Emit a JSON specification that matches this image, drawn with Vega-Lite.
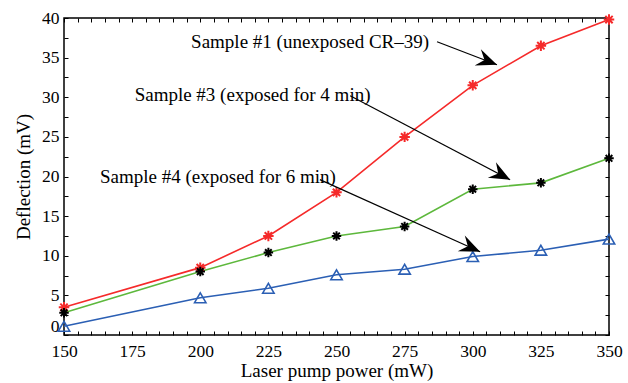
{
  "$schema": "https://vega.github.io/schema/vega-lite/v6.json",
  "width": 545,
  "height": 317,
  "autosize": {"type": "none"},
  "padding": {"left": 64, "top": 18, "right": 19, "bottom": 48},
  "background": "white",
  "config": {
    "view": {"stroke": "black", "strokeWidth": 1.5},
    "font": "Liberation Serif",
    "axis": {"grid": false, "labelFont": "Liberation Serif", "titleFont": "Liberation Serif", "labelColor": "black", "titleColor": "black", "labelFontSize": 17.5, "titleFontSize": 19, "titleFontWeight": "normal", "domain": false, "tickColor": "black"}
  },
  "datasets": {
    "series": [
      {"power": 150, "deflection": 3.5, "sample": "Sample #1"},
      {"power": 200, "deflection": 8.5, "sample": "Sample #1"},
      {"power": 225, "deflection": 12.5, "sample": "Sample #1"},
      {"power": 250, "deflection": 18.0, "sample": "Sample #1"},
      {"power": 275, "deflection": 25.0, "sample": "Sample #1"},
      {"power": 300, "deflection": 31.5, "sample": "Sample #1"},
      {"power": 325, "deflection": 36.5, "sample": "Sample #1"},
      {"power": 350, "deflection": 39.8, "sample": "Sample #1"},
      {"power": 150, "deflection": 2.8, "sample": "Sample #3"},
      {"power": 200, "deflection": 8.0, "sample": "Sample #3"},
      {"power": 225, "deflection": 10.4, "sample": "Sample #3"},
      {"power": 250, "deflection": 12.5, "sample": "Sample #3"},
      {"power": 275, "deflection": 13.7, "sample": "Sample #3"},
      {"power": 300, "deflection": 18.4, "sample": "Sample #3"},
      {"power": 325, "deflection": 19.2, "sample": "Sample #3"},
      {"power": 350, "deflection": 22.3, "sample": "Sample #3"},
      {"power": 150, "deflection": 1.1, "sample": "Sample #4"},
      {"power": 200, "deflection": 4.7, "sample": "Sample #4"},
      {"power": 225, "deflection": 5.9, "sample": "Sample #4"},
      {"power": 250, "deflection": 7.6, "sample": "Sample #4"},
      {"power": 275, "deflection": 8.3, "sample": "Sample #4"},
      {"power": 300, "deflection": 9.9, "sample": "Sample #4"},
      {"power": 325, "deflection": 10.7, "sample": "Sample #4"},
      {"power": 350, "deflection": 12.1, "sample": "Sample #4"}
    ],
    "notes": [
      {"id": "n1", "label": "Sample #1 (unexposed CR–39)", "tx": 240.3, "ty": 37.0, "x1": 286.9, "y1": 37.0, "x2": 308.9, "y2": 34.1},
      {"id": "n3", "label": "Sample #3 (exposed for 4 min)", "tx": 219.2, "ty": 30.3, "x1": 255.0, "y1": 30.2, "x2": 313.7, "y2": 19.6},
      {"id": "n4", "label": "Sample #4 (exposed for 6 min)", "tx": 206.5, "ty": 19.9, "x1": 243.9, "y1": 19.6, "x2": 302.7, "y2": 10.5}
    ],
    "frame": [{"power": 150, "deflection": 0}]
  },
  "resolve": {"axis": {"x": "independent", "y": "independent"}},
  "layer": [
    {
      "data": {"name": "frame"},
      "mark": {"type": "point", "opacity": 0},
      "encoding": {
        "x": {"field": "power", "type": "quantitative", "scale": {"domain": [150, 350], "nice": false, "zero": false},
              "axis": {"orient": "bottom", "values": [150, 175, 200, 225, 250, 275, 300, 325, 350], "ticks": false, "labelPadding": 7, "title": "Laser pump power (mW)", "titlePadding": 2, "labelFlush": false}},
        "y": {"field": "deflection", "type": "quantitative", "scale": {"domain": [0, 40], "nice": false},
              "axis": {"orient": "left", "values": [0, 5, 10, 15, 20, 25, 30, 35, 40], "ticks": false, "labelPadding": 5, "title": "Deflection (mV)", "titlePadding": 8, "labelFlush": false,
                       "labelBaseline": {"condition": {"test": "datum.value === 0", "value": "bottom"}, "value": "middle"}}}
      }
    },
    {
      "data": {"name": "frame"},
      "mark": {"type": "point", "opacity": 0},
      "encoding": {
        "x": {"field": "power", "type": "quantitative", "axis": {"orient": "bottom", "values": [150, 155, 160, 165, 170, 175, 180, 185, 190, 195, 200, 205, 210, 215, 220, 225, 230, 235, 240, 245, 250, 255, 260, 265, 270, 275, 280, 285, 290, 295, 300, 305, 310, 315, 320, 325, 330, 335, 340, 345, 350], "labels": false, "tickSize": -4, "tickWidth": 1, "title": null}},
        "y": {"field": "deflection", "type": "quantitative", "axis": {"orient": "left", "values": [0, 2.5, 5, 7.5, 10, 12.5, 15, 17.5, 20, 22.5, 25, 27.5, 30, 32.5, 35, 37.5, 40], "labels": false, "tickSize": -4, "tickWidth": 1, "title": null}}
      }
    },
    {
      "data": {"name": "frame"},
      "mark": {"type": "point", "opacity": 0},
      "encoding": {
        "x": {"field": "power", "type": "quantitative", "axis": {"orient": "top", "values": [150, 155, 160, 165, 170, 175, 180, 185, 190, 195, 200, 205, 210, 215, 220, 225, 230, 235, 240, 245, 250, 255, 260, 265, 270, 275, 280, 285, 290, 295, 300, 305, 310, 315, 320, 325, 330, 335, 340, 345, 350], "labels": false, "tickSize": -4, "tickWidth": 1, "title": null}},
        "y": {"field": "deflection", "type": "quantitative", "axis": {"orient": "right", "values": [0, 2.5, 5, 7.5, 10, 12.5, 15, 17.5, 20, 22.5, 25, 27.5, 30, 32.5, 35, 37.5, 40], "labels": false, "tickSize": -4, "tickWidth": 1, "title": null}}
      }
    },
    {
      "data": {"name": "series"},
      "mark": {"type": "line", "strokeWidth": 1.6},
      "encoding": {
        "x": {"field": "power", "type": "quantitative", "axis": null},
        "y": {"field": "deflection", "type": "quantitative", "axis": null},
        "color": {"field": "sample", "type": "nominal", "scale": {"domain": ["Sample #1", "Sample #3", "Sample #4"], "range": ["#f52a2a", "#5db83c", "#2b5fb4"]}, "legend": null}
      }
    },
    {
      "data": {"name": "series"},
      "transform": [{"filter": "datum.sample === 'Sample #1'"}],
      "mark": {"type": "point", "shape": "M-1,0L1,0M0,-1L0,1M-0.7,-0.7L0.7,0.7M-0.7,0.7L0.7,-0.7", "size": 110, "stroke": "#f52a2a", "strokeWidth": 2, "filled": false, "opacity": 1},
      "encoding": {
        "x": {"field": "power", "type": "quantitative", "axis": null},
        "y": {"field": "deflection", "type": "quantitative", "axis": null}
      }
    },
    {
      "data": {"name": "series"},
      "transform": [{"filter": "datum.sample === 'Sample #3'"}],
      "mark": {"type": "point", "shape": "M-1,0L1,0M0,-1L0,1M-0.7,-0.7L0.7,0.7M-0.7,0.7L0.7,-0.7", "size": 90, "stroke": "black", "strokeWidth": 2, "filled": false, "opacity": 1},
      "encoding": {
        "x": {"field": "power", "type": "quantitative", "axis": null},
        "y": {"field": "deflection", "type": "quantitative", "axis": null}
      }
    },
    {
      "data": {"name": "series"},
      "transform": [{"filter": "datum.sample === 'Sample #4'"}],
      "mark": {"type": "point", "shape": "triangle-up", "size": 130, "stroke": "#2b5fb4", "strokeWidth": 1.6, "filled": false, "opacity": 1},
      "encoding": {
        "x": {"field": "power", "type": "quantitative", "axis": null},
        "y": {"field": "deflection", "type": "quantitative", "axis": null}
      }
    },
    {
      "data": {"name": "notes"},
      "mark": {"type": "rule", "stroke": "black", "strokeWidth": 1.2},
      "encoding": {
        "x": {"field": "x1", "type": "quantitative", "axis": null},
        "y": {"field": "y1", "type": "quantitative", "axis": null},
        "x2": {"field": "x2"},
        "y2": {"field": "y2"}
      }
    },
    {
      "data": {"name": "notes"},
      "transform": [{"filter": "datum.id === 'n1'"}],
      "mark": {"type": "point", "shape": "M0,0L-1,-0.42L-0.65,0L-1,0.42Z", "size": 1700, "fill": "black", "filled": true, "opacity": 1, "angle": 21},
      "encoding": {
        "x": {"field": "x2", "type": "quantitative", "axis": null},
        "y": {"field": "y2", "type": "quantitative", "axis": null}
      }
    },
    {
      "data": {"name": "notes"},
      "transform": [{"filter": "datum.id === 'n3'"}],
      "mark": {"type": "point", "shape": "M0,0L-1,-0.42L-0.65,0L-1,0.42Z", "size": 1700, "fill": "black", "filled": true, "opacity": 1, "angle": 28},
      "encoding": {
        "x": {"field": "x2", "type": "quantitative", "axis": null},
        "y": {"field": "y2", "type": "quantitative", "axis": null}
      }
    },
    {
      "data": {"name": "notes"},
      "transform": [{"filter": "datum.id === 'n4'"}],
      "mark": {"type": "point", "shape": "M0,0L-1,-0.42L-0.65,0L-1,0.42Z", "size": 1700, "fill": "black", "filled": true, "opacity": 1, "angle": 24},
      "encoding": {
        "x": {"field": "x2", "type": "quantitative", "axis": null},
        "y": {"field": "y2", "type": "quantitative", "axis": null}
      }
    },
    {
      "data": {"name": "notes"},
      "mark": {"type": "text", "font": "Liberation Serif", "fontSize": 19, "color": "black", "align": "center", "baseline": "middle"},
      "encoding": {
        "x": {"field": "tx", "type": "quantitative", "axis": null},
        "y": {"field": "ty", "type": "quantitative", "axis": null},
        "text": {"field": "label"}
      }
    }
  ]
}
